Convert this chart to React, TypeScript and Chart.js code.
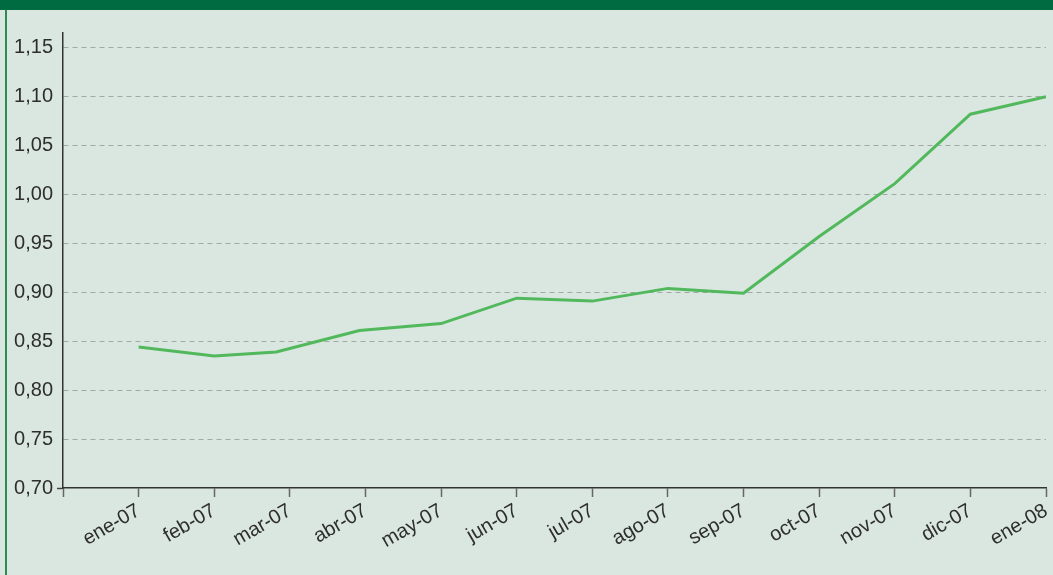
import React, { useEffect, useRef } from "react";
import { Chart, registerables } from "chart.js";

Chart.register(...registerables);

// Month labels for the x axis (index 0 = ene-07)
const monthLabels: string[] = [
  "ene-07", "feb-07", "mar-07", "abr-07", "may-07", "jun-07", "jul-07",
  "ago-07", "sep-07", "oct-07", "nov-07", "dic-07", "ene-08",
];

const obsPosition: number[] = [0, 1, 1.82, 2.92, 4, 5, 6, 7, 8, 9, 10, 11, 12];

// Series values
const rateValues: number[] = [
  0.844, 0.835, 0.839, 0.861, 0.868, 0.894, 0.891, 0.904, 0.899,
  0.957, 1.011, 1.082, 1.1,
];

// Y tick values
const yTickValues: number[] = [0.7, 0.75, 0.8, 0.85, 0.9, 0.95, 1.0, 1.05, 1.1, 1.15];

const FONT_FAMILY = '"Liberation Sans Narrow", "Liberation Sans", Arial, sans-serif';

export default function App() {
  const canvasRef = useRef<HTMLCanvasElement | null>(null);

  useEffect(() => {
    const canvas = canvasRef.current;
    if (!canvas) return;
    const xTickValues = [-1, ...monthLabels.map((_, i) => i)];
    const chart = new Chart(canvas, {
      type: "line",
      data: {
        datasets: [
          {
            data: rateValues.map((v, i) => ({ x: obsPosition[i], y: v })),
            borderColor: "#52b85c",
            borderWidth: 3,
            pointRadius: 0,
            tension: 0,
            fill: false,
          },
        ],
      },
      options: {
        animation: false,
        responsive: false,
        maintainAspectRatio: false,
        layout: { padding: { top: 23, right: 7, left: 0, bottom: 0 } },
        plugins: { legend: { display: false }, tooltip: { enabled: false } },
        scales: {
          x: {
            type: "linear",
            min: -1,
            max: 12,
            afterBuildTicks: (scale: any) => {
              scale.ticks = xTickValues.map((v) => ({ value: v }));
            },
            afterFit: (scale: any) => {
              scale.paddingLeft = 0;
              scale.paddingRight = 0;
              scale.height = 87;
            },
            ticks: {
              autoSkip: false,
              minRotation: 30,
              maxRotation: 30,
              padding: 2,
              color: "#2e2e2e",
              font: { family: FONT_FAMILY, size: 20 },
              callback: (value: any) => {
                const i = Math.round(Number(value));
                return i >= 0 && i < monthLabels.length ? monthLabels[i] : "";
              },
            },
            grid: {
              drawOnChartArea: false,
              drawTicks: true,
              tickLength: 9,
              tickColor: "#666666",
              tickWidth: 1.5,
            },
            border: { display: true, color: "#333333", width: 1.5 },
          },
          y: {
            type: "linear",
            min: 0.7,
            max: 1.165,
            afterBuildTicks: (scale: any) => {
              scale.ticks = yTickValues.map((v) => ({ value: v }));
            },
            afterFit: (scale: any) => {
              scale.width = 63;
            },
            ticks: {
              padding: 4,
              color: "#2e2e2e",
              font: { family: FONT_FAMILY, size: 20 },
              callback: (value: any) => Number(value).toFixed(2).replace(".", ","),
            },
            grid: {
              drawTicks: true,
              tickLength: 6,
              lineWidth: 1,
              color: (ctx: any) =>
                ctx.tick && Math.abs(ctx.tick.value - 0.7) < 1e-6 ? "rgba(0,0,0,0)" : "#a3a8a5",
              tickColor: (ctx: any) =>
                ctx.tick && Math.abs(ctx.tick.value - 0.7) < 1e-6 ? "#444444" : "rgba(0,0,0,0)",
              tickWidth: 1.5,
            },
            border: { display: true, color: "#333333", width: 1.5, dash: [5, 4] },
          },
        },
      },
    } as any);
    return () => chart.destroy();
  }, []);

  return (
    <div
      style={{
        position: "fixed",
        left: 0,
        top: 0,
        width: 1053,
        height: 575,
        background: "#d9e7e0",
        overflow: "hidden",
      }}
    >
      <div
        style={{ position: "absolute", left: 0, top: 0, width: 1053, height: 10, background: "#006a40" }}
      />
      <div style={{ position: "absolute", left: 0, top: 10, width: 1053, height: 565 }}>
        <canvas ref={canvasRef} width={1053} height={565} style={{ display: "block" }} />
      </div>
      <div
        style={{ position: "absolute", left: 5, top: 10, width: 2, height: 565, background: "#2f8a57" }}
      />
    </div>
  );
}
